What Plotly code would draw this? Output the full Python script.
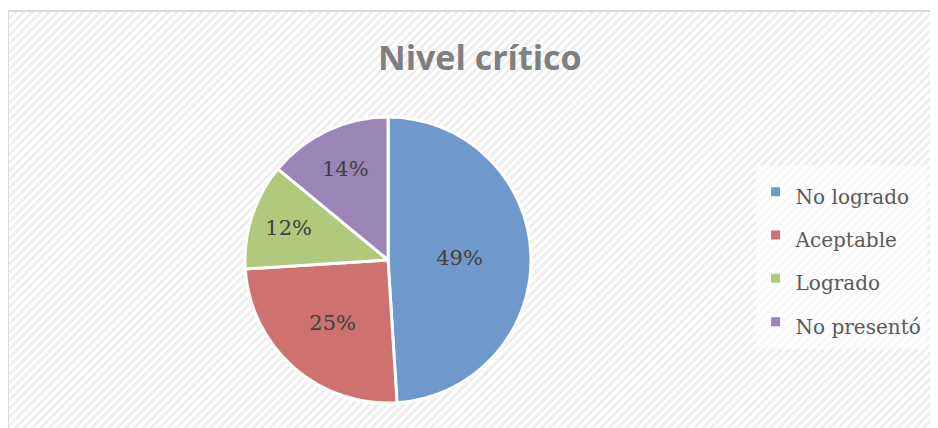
import plotly.graph_objects as go

categories = ["No logrado", "Aceptable", "Logrado", "No presentó"]
values = [49, 25, 12, 14]
colors = ["#7099cb", "#cd726f", "#b0c97c", "#9a85b6"]
title_text = "Nivel crítico"

legend_labels = ['<span style="font-size:20px">' + c + '</span>' for c in categories]

fig = go.Figure()

# hatched background
fig.add_trace(go.Bar(
    x=[0], y=[1], width=[1],
    marker=dict(color="white", line=dict(width=0),
                pattern=dict(shape="/", fgcolor="#dcdcdc", bgcolor="white", size=6, solidity=0.45)),
    hoverinfo="skip", showlegend=False,
))

fig.add_trace(go.Pie(
    labels=legend_labels, values=values, sort=False, direction="clockwise", rotation=0,
    marker=dict(colors=colors, line=dict(color="white", width=3)),
    textinfo="percent", textposition="inside", insidetextorientation="horizontal",
    texttemplate="%{percent:.0%}",
    textfont=dict(family="DejaVu Serif", size=21, color="#404040"),
    domain=dict(x=[0.2527, 0.5576], y=[0.0776, 0.7506]),
    automargin=False,
    hoverinfo="percent",
))

fig.update_layout(
    width=938, height=428,
    margin=dict(l=0, r=0, t=3, b=0),
    paper_bgcolor="white", plot_bgcolor="white",
    bargap=0,
    xaxis=dict(range=[-0.5, 0.5], visible=False, fixedrange=True),
    yaxis=dict(range=[0, 1], visible=False, fixedrange=True),
    title=dict(text="<b>" + title_text + "</b>", xref="container", yref="container",
               x=0.503, y=0.883, xanchor="center", yanchor="middle",
               font=dict(family="Open Sans", size=34, color="#7f7f7f")),
    legend=dict(x=0.797, xanchor="left", y=0.421, yanchor="middle",
                bgcolor="rgba(255,255,255,0.6)",
                font=dict(family="DejaVu Serif", size=31, color="#595959")),
    shapes=[dict(type="rect", xref="paper", yref="paper", x0=0, x1=1.05, y0=-0.05, y1=1,
                 line=dict(color="#d9d9d9", width=2), layer="above")],
)

fig.write_html("out.html")
